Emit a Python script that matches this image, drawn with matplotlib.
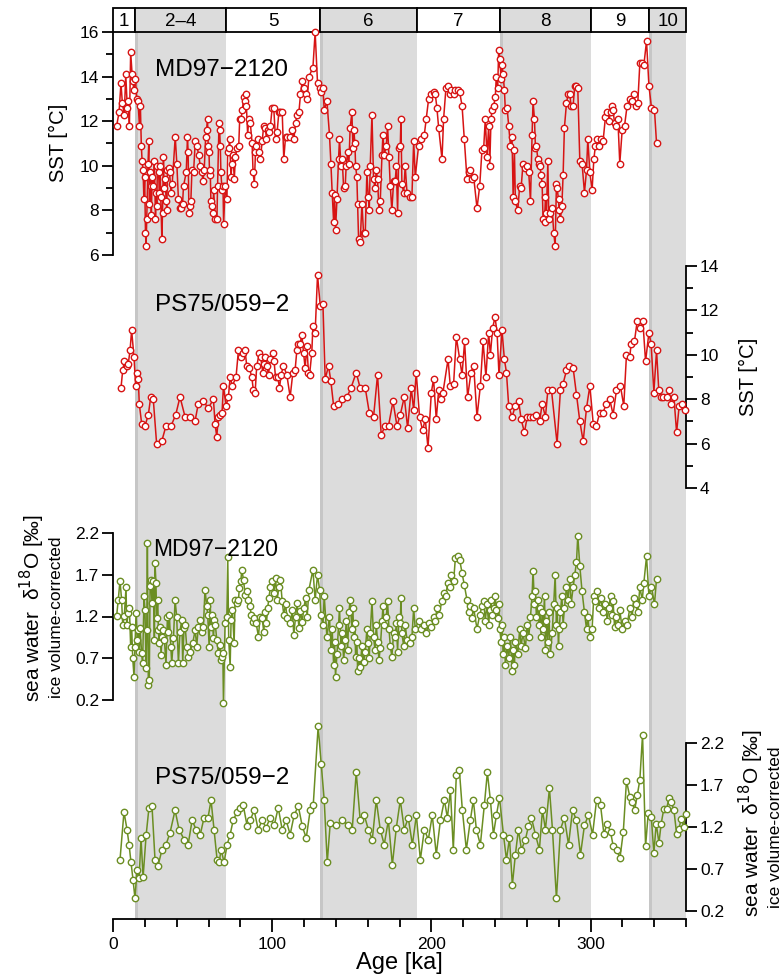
import matplotlib
matplotlib.use("Agg")
import matplotlib.pyplot as plt
from matplotlib.patches import Rectangle
import numpy as np

plt.rcParams['font.family'] = ['Liberation Sans', 'DejaVu Sans']

# ---- Marine isotope stages ----
mis_labels = ['1', '2\u20134', '5', '6', '7', '8', '9', '10']
mis_bounds = [0, 14, 71, 130, 191, 243, 300, 337, 360]
mis_glacial = [False, True, False, True, False, True, False, True]
terminations = [14, 130, 243, 337]

# ---- MD97-2120 SST [°C] ----
md_sst_age = [
    2.3, 3.8, 5.0, 5.9, 7.1, 8.0, 9.0, 9.7, 10.3, 11.1, 12.0, 12.6, 13.0, 14.1, 14.9, 15.7,
    16.6, 17.2, 17.8, 18.3, 18.9, 19.4, 19.9, 20.4, 20.8, 21.2, 22.0, 22.5, 22.9, 23.3, 23.7,
    24.1, 24.6, 25.4, 26.0, 26.7, 27.1, 27.5, 27.9, 28.6, 29.2, 29.6, 30.0, 30.7, 31.1, 31.7,
    32.1, 32.8, 33.4, 33.8, 34.2, 34.9, 35.5, 36.5, 37.2, 39.1, 40.1, 41.1, 42.2, 42.8, 43.7,
    44.3, 46.0, 46.8, 47.2, 47.7, 48.5, 48.9, 49.6, 50.6, 51.7, 52.7, 53.8, 54.8, 55.9, 56.5,
    57.3, 58.2, 58.8, 59.4, 59.8, 60.3, 60.7, 61.1, 61.5, 62.2, 62.8, 63.2, 64.3, 65.3, 65.7,
    66.6, 67.0, 67.4, 67.8, 68.5, 69.1, 69.5, 70.5, 71.6, 72.0, 72.7, 73.3, 74.1, 74.8, 75.4,
    76.2, 76.9, 77.9, 79.0, 79.6, 80.4, 81.3, 82.1, 82.7, 83.4, 83.8, 84.6, 85.3, 86.3, 87.4,
    88.0, 88.8, 89.5, 90.1, 90.9, 91.6, 92.6, 93.7, 94.7, 95.8, 96.4, 97.2, 97.9, 98.9, 100.0,
    101.0, 102.1, 103.1, 104.2, 105.2, 106.3, 107.3, 108.4, 109.4, 111.5, 112.6, 113.6, 114.7,
    115.7, 116.8, 117.8, 118.9, 119.9, 121.0, 122.0, 123.1, 125.6, 127.0, 128.5, 129.8, 130.6,
    131.9, 132.7, 134.4, 136.0, 136.9, 137.7, 138.6, 139.2, 139.8, 140.7, 141.7, 142.3, 143.2,
    144.0, 144.9, 145.9, 146.5, 147.4, 148.2, 149.0, 150.1, 150.7, 151.3, 152.0, 152.4, 153.2,
    153.7, 154.3, 155.3, 156.4, 157.4, 158.5, 159.5, 160.4, 161.0, 161.6, 162.7, 163.7, 164.6,
    165.4, 166.2, 167.1, 167.9, 169.0, 169.6, 170.4, 171.7, 172.5, 173.4, 174.2, 175.2, 176.3,
    177.3, 178.0, 178.8, 179.6, 180.5, 180.9, 181.5, 182.6, 183.6, 184.7, 186.3, 187.8, 188.9,
    189.9, 192.0, 193.5, 195.6, 196.8, 198.3, 199.8, 201.4, 202.5, 203.5, 204.6, 206.7, 207.7,
    209.2, 210.2, 211.5, 212.5, 214.0, 215.1, 216.5, 217.8, 219.3, 220.7, 222.4, 223.4, 224.5,
    225.5, 226.6, 228.7, 230.4, 231.8, 232.9, 233.9, 235.0, 236.0, 236.7, 237.5, 238.1, 239.2,
    240.2, 240.8, 241.7, 242.3, 243.0, 243.8, 244.4, 245.1, 245.9, 246.5, 247.6, 248.6, 249.7,
    250.7, 251.4, 252.2, 252.8, 254.3, 255.5, 256.4, 257.6, 259.1, 260.2, 261.2, 262.3, 263.3,
    263.9, 264.8, 265.4, 266.0, 266.9, 267.5, 268.1, 269.0, 269.6, 270.2, 271.1, 271.7, 272.3,
    273.2, 273.8, 274.8, 275.9, 276.9, 277.8, 278.6, 279.0, 279.9, 280.3, 281.1, 282.0, 282.8,
    283.6, 284.9, 285.9, 287.0, 287.8, 289.1, 290.1, 291.2, 292.0, 293.3, 294.7, 296.2, 297.5,
    298.3, 299.6, 301.0, 302.1, 303.1, 304.2, 305.2, 306.3, 307.9, 309.4, 310.5, 311.5, 312.6,
    313.6, 314.2, 315.1, 316.3, 317.2, 318.4, 319.9, 321.4, 323.0, 324.7, 326.2, 327.2, 328.3,
    329.7, 331.0, 332.5, 333.5, 335.2, 336.7, 338.3, 340.2, 341.5]
md_sst = [
    11.8, 12.4, 13.7, 12.8, 12.3, 14.1, 12.6, 12.9, 11.8, 15.1, 14.1, 13.8, 13.4, 13.9, 13.0, 12.9,
    11.8, 12.7, 10.9, 10.2, 9.8, 8.5, 9.5, 7.0, 6.4, 7.6, 10.1, 11.1, 8.3, 9.7, 9.1,
    7.8, 9.5, 9.1, 10.2, 7.6, 8.8, 8.2, 10.0, 9.7, 8.8, 10.0, 8.6, 6.7, 7.9, 10.4,
    9.0, 9.4, 8.4, 8.0, 9.8, 9.9, 9.7, 8.8, 9.2, 11.3, 10.1, 8.5, 8.1, 8.1, 8.3,
    9.1, 9.7, 11.3, 10.6, 7.9, 8.2, 8.4, 9.8, 9.7, 11.1, 10.9, 10.5, 10.0, 9.7, 9.3,
    9.8, 11.3, 11.6, 12.1, 10.9, 10.6, 9.6, 9.8, 8.4, 8.2, 7.9, 8.9, 7.6, 7.6, 9.1,
    11.9, 11.6, 10.9, 9.7, 8.9, 9.1, 7.4, 9.1, 8.5, 10.6, 10.8, 11.2, 9.5, 10.1, 10.5,
    9.4, 10.4, 10.8, 10.9, 12.1, 12.1, 12.5, 13.1, 12.9, 13.2, 12.7, 11.4, 12.1, 11.9, 11.0,
    9.7, 9.2, 10.6, 10.9, 11.2, 10.6, 10.3, 11.1, 11.8, 11.7, 11.2, 11.6, 11.5, 11.8, 12.6,
    12.6, 11.2, 11.5, 12.4, 12.4, 12.4, 10.3, 11.3, 11.3, 11.3, 11.6, 11.2, 11.9,
    12.3, 12.4, 13.2, 13.8, 13.5, 13.2, 13.0, 14.0, 14.4, 16.0, 13.7, 13.5, 13.3,
    13.5, 12.5, 12.9, 11.4, 10.1, 8.8, 7.5, 8.7, 7.1, 8.5, 10.3, 11.2, 10.0,
    10.3, 9.0, 9.1, 10.0, 10.6, 10.1, 11.7, 12.4, 10.8, 11.6, 11.0, 10.0, 9.5,
    8.3, 6.7, 6.6, 8.3, 7.0, 7.0, 9.7, 8.6, 8.0, 10.0, 12.3, 9.4, 9.0,
    9.8, 9.4, 8.0, 8.4, 10.5, 11.4, 10.5, 10.9, 11.8, 10.4, 9.1, 8.0, 9.3,
    9.3, 10.0, 7.9, 10.8, 10.9, 12.1, 9.2, 8.8, 10.0, 8.8, 8.6, 8.6, 11.1,
    9.5, 10.9, 11.2, 11.4, 12.1, 13.0, 13.2, 13.3, 13.2, 12.6, 11.7, 10.3, 12.1,
    13.5, 13.6, 13.2, 13.4, 13.2, 13.4, 13.4, 13.3, 12.7, 11.2, 9.4, 9.7, 9.8,
    9.4, 9.5, 8.1, 9.1, 10.7, 10.8, 12.1, 10.4, 11.8, 10.0, 12.1, 12.5, 12.7,
    13.1, 14.0, 13.5, 15.2, 14.8, 13.9, 14.5, 14.1, 13.4, 12.5, 12.6, 11.8, 10.9,
    11.3, 8.6, 10.7, 8.4, 8.0, 9.1, 9.0, 10.1, 9.9, 10.0, 9.7, 8.4, 11.4,
    12.9, 12.1, 10.8, 10.9, 10.3, 10.1, 10.0, 9.6, 9.2, 7.6, 7.5, 8.6, 7.9,
    10.2, 7.6, 7.9, 8.1, 7.0, 6.4, 9.2, 9.0, 8.5, 8.0, 7.6, 8.2, 9.6,
    11.7, 12.8, 13.2, 13.2, 12.7, 12.7, 13.6, 13.6, 13.5, 10.2, 10.1, 8.8, 9.8,
    11.2, 9.7, 8.9, 10.3, 10.9, 11.2, 10.9, 11.2, 11.1, 12.2, 12.4, 12.0, 12.4,
    12.7, 12.5, 11.9, 11.8, 12.1, 10.1, 11.6, 11.8, 12.7, 13.0, 12.9, 13.2, 12.7,
    12.8, 14.6, 14.6, 14.5, 15.6, 13.6, 12.6, 12.5, 11.0]

# ---- PS75/059-2 SST [°C] ----
ps_sst_age = [
    5.0, 6.1, 7.1, 8.6, 9.6, 10.7, 11.7, 13.2, 14.2, 14.9, 15.9, 16.5, 18.0, 20.1, 22.2, 23.7,
    25.3, 27.4, 30.6, 33.3, 36.5, 39.4, 42.1, 45.3, 48.4, 51.5, 53.6, 56.8, 59.9, 63.1, 64.1,
    65.2, 66.2, 67.3, 68.5, 69.4, 71.0, 72.5, 73.6, 75.0, 77.3, 78.8, 80.3, 81.5, 83.0, 84.0,
    85.7, 87.2, 88.2, 89.3, 90.3, 92.0, 92.8, 94.1, 94.9, 95.8, 96.6, 97.7, 98.7, 100.4, 101.2,
    102.1, 103.5, 104.6, 105.6, 107.1, 109.2, 111.3, 113.0, 114.4, 115.5, 116.5, 117.6, 118.6,
    119.7, 120.7, 121.8, 122.8, 123.5, 124.9, 125.6, 127.0, 128.5, 130.2, 131.9, 133.3, 135.4,
    136.9, 138.6, 141.1, 143.8, 147.0, 149.5, 152.8, 155.3, 158.5, 161.0, 163.7, 166.2, 168.5,
    171.0, 173.1, 175.9, 178.4, 180.5, 183.0, 185.1, 187.4, 188.9, 190.5, 192.6, 194.5, 196.2,
    197.9, 200.0, 201.4, 203.1, 204.6, 206.1, 207.3, 210.5, 211.9, 214.0, 215.7, 217.8, 219.3,
    220.9, 222.8, 224.9, 226.6, 228.7, 230.8, 232.5, 234.3, 236.0, 237.1, 238.5, 240.0, 241.3,
    242.5, 244.4, 245.9, 247.2, 248.6, 250.7, 252.8, 254.9, 256.4, 258.5, 260.2, 261.8, 263.9,
    266.0, 268.1, 269.6, 271.7, 273.2, 275.5, 279.0, 281.1, 282.8, 284.9, 286.8, 289.1, 291.2,
    293.3, 295.4, 297.5, 299.6, 301.7, 303.7, 305.8, 307.9, 310.0, 312.1, 314.2, 316.3, 318.8,
    320.9, 322.6, 324.7, 325.5, 327.6, 329.3, 331.0, 332.9, 334.6, 336.7, 338.1, 339.8, 341.5,
    342.9, 344.0, 345.7, 347.8, 349.2, 350.7, 352.4, 354.1, 355.7, 357.6, 359.1]
ps_sst = [
    8.5, 9.3, 9.7, 9.5, 9.6, 10.2, 11.1, 9.9, 8.6, 9.2, 8.9, 7.8, 6.9, 6.8, 7.3, 8.1,
    8.0, 6.0, 6.1, 6.8, 6.8, 7.3, 8.1, 7.2, 7.2, 7.0, 7.8, 7.9, 7.6, 8.0, 6.9,
    6.3, 7.2, 7.3, 7.4, 8.6, 7.7, 8.1, 9.0, 8.6, 9.0, 10.2, 9.9, 10.1, 10.2, 9.5,
    9.4, 9.0, 8.4, 8.3, 9.5, 10.1, 9.9, 9.2, 9.6, 9.9, 9.5, 9.1, 9.8, 10.1, 9.7,
    9.0, 9.0, 8.5, 9.1, 9.5, 9.1, 8.1, 9.2, 9.3, 10.2, 10.5, 10.5, 10.9,
    10.1, 9.4, 10.4, 9.2, 9.1, 10.1, 11.3, 11.0, 13.6, 12.2, 12.3, 8.9, 9.5,
    8.8, 7.7, 7.8, 8.0, 8.1, 8.5, 9.2, 8.5, 8.5, 7.4, 7.2, 9.1, 6.4,
    6.8, 6.8, 7.9, 6.8, 7.3, 8.1, 6.7, 8.5, 7.5, 9.2, 7.2, 6.6, 7.1,
    5.8, 8.3, 8.9, 7.1, 8.4, 8.0, 8.3, 9.8, 8.6, 8.7, 10.8, 9.8, 9.1,
    10.6, 8.1, 9.2, 9.5, 7.2, 8.6, 10.6, 9.0, 11.0, 10.0, 11.2, 11.7, 11.0,
    9.1, 11.1, 9.8, 9.2, 7.7, 7.2, 7.7, 7.9, 7.1, 6.5, 7.2, 7.2, 7.2,
    7.3, 7.0, 7.8, 7.2, 8.4, 8.4, 6.0, 8.4, 8.7, 9.3, 9.5, 9.4, 8.2,
    7.0, 6.1, 7.6, 8.6, 6.9, 6.8, 7.4, 7.4, 7.8, 8.0, 7.3, 8.4, 8.6,
    7.7, 10.0, 9.9, 10.5, 10.6, 11.5, 11.2, 11.5, 9.7, 11.0, 10.5, 8.3, 10.2,
    8.4, 8.1, 8.1, 8.1, 8.4, 7.8, 8.1, 6.5, 7.7, 7.8, 7.5]

# ---- MD97-2120 ice volume-corrected seawater d18O [permil] ----
md_d18o_age = [
    2.3, 3.3, 4.4, 5.4, 6.1, 7.1, 8.2, 8.6, 9.6, 10.3, 11.1, 11.7, 12.4, 13.2, 13.8, 14.5,
    15.3, 15.9, 16.5, 17.0, 18.0, 18.6, 19.5, 20.1, 20.7, 21.2, 21.6, 22.2, 22.8, 23.3, 23.9,
    24.5, 25.4, 26.0, 26.4, 27.0, 27.4, 28.1, 28.5, 29.1, 29.5, 30.2, 30.8, 31.6, 32.3, 33.3,
    34.2, 34.8, 35.4, 36.3, 36.9, 38.0, 39.0, 40.0, 41.1, 42.1, 43.2, 43.8, 44.6, 45.3, 46.3,
    47.4, 48.4, 50.1, 51.6, 52.6, 53.6, 54.7, 55.7, 56.8, 57.8, 58.9, 59.5, 60.4, 61.0, 61.6,
    62.2, 63.1, 63.7, 64.3, 65.2, 66.2, 67.3, 67.9, 68.3, 69.0, 69.4, 70.4, 71.5, 72.1, 72.7,
    73.6, 74.2, 75.0, 76.1, 76.7, 77.8, 78.8, 79.4, 80.3, 80.9, 82.0, 83.0, 84.0, 85.1, 86.1,
    86.8, 87.8, 88.9, 89.9, 91.4, 92.4,
    93.7, 94.7, 95.8, 96.4, 97.2, 97.9, 98.9, 100.0, 101.0, 102.1, 103.1, 104.2, 105.2, 106.3,
    107.3, 108.4, 109.4, 111.5, 112.6, 113.6, 114.7, 115.7, 116.8, 117.8, 118.9, 119.9, 121.0,
    122.0, 123.1, 125.6, 127.0, 128.5, 129.8, 130.6,
    131.9, 132.7, 134.4, 136.0, 136.9, 137.7, 138.6, 139.2, 139.8, 140.7, 141.7, 142.3, 143.2,
    144.0, 144.9, 145.9, 146.5, 147.4, 148.2, 149.0, 150.1, 150.7, 151.3, 152.0, 152.4, 153.2,
    153.7, 154.3, 155.3, 156.4, 157.4, 158.5, 159.5, 160.4, 161.0, 161.6, 162.7, 163.7, 164.6,
    165.4, 166.2, 167.1, 167.9, 169.0, 169.6, 170.4, 171.7, 172.5, 173.4, 174.2, 175.2, 176.3,
    177.3, 178.0, 178.8, 179.6, 180.5, 180.9, 181.5, 182.6, 183.6, 184.7, 186.3, 187.8, 188.9,
    189.9,
    192.0, 193.5, 195.6, 196.8, 198.3, 199.8, 201.4, 202.5, 203.5, 204.6, 206.7, 207.7, 209.2,
    210.2, 211.5, 212.5, 214.0, 215.1, 216.5, 217.8, 219.3, 220.7, 222.4, 223.4, 224.5, 225.5,
    226.6, 228.7, 230.4, 231.8, 232.9, 233.9, 235.0, 236.0, 236.7, 237.5, 238.1, 239.2, 240.2,
    240.8, 241.7, 242.3,
    243.0, 243.8, 244.4, 245.1, 245.9, 246.5, 247.6, 248.6, 249.7, 250.7, 251.4, 252.2, 252.8,
    254.3, 255.5, 256.4, 257.6, 259.1, 260.2, 261.2, 262.3, 263.3, 263.9, 264.8, 265.4, 266.0,
    266.9, 267.5, 268.1, 269.0, 269.6, 270.2, 271.1, 271.7, 272.3, 273.2, 273.8, 274.8, 275.9,
    276.9, 277.8, 278.6, 279.0, 279.9, 280.3, 281.1, 282.0, 282.8, 283.6, 284.9, 285.9, 287.0,
    287.8, 289.1, 290.1, 291.2, 292.0, 293.3, 294.7, 296.2, 297.5, 298.3, 299.6,
    301.0, 302.1, 303.1, 304.2, 305.2, 306.3, 307.9, 309.4, 310.5, 311.5, 312.6, 313.6, 314.2,
    315.1, 316.3, 317.2, 318.4, 319.9, 321.4, 323.0, 324.7, 326.2, 327.2, 328.3, 329.7, 331.0,
    332.5, 333.5, 335.2, 336.7, 338.3, 340.2, 341.5]
md_d18o = [
    1.21, 1.40, 1.63, 1.40, 1.10, 1.21, 1.55, 1.10, 1.24, 1.30, 0.84, 1.08, 0.70, 0.48, 0.84, 1.24,
    0.92, 1.04, 0.78, 1.06, 0.76, 0.64, 1.44, 1.28, 0.58, 1.04, 2.08, 0.38, 0.44, 1.56, 1.64,
    1.36, 1.62, 0.92, 1.84, 1.60, 1.18, 1.40, 1.04, 0.88, 1.08, 0.74, 0.96, 1.04, 0.92, 0.62,
    1.20, 1.02, 1.22, 0.84, 0.64, 0.94, 1.40, 1.20, 0.64, 1.02, 1.16, 0.64, 1.06, 1.10, 0.84,
    0.72, 0.78, 0.88, 1.04, 0.84, 1.08, 1.16, 1.02, 1.08, 1.52, 1.32, 1.22, 0.84, 1.40, 1.08,
    1.22, 0.94, 1.16, 1.10, 0.92, 0.76, 0.86, 0.68, 0.72, 0.76, 0.17, 1.12, 1.20, 1.91, 0.92,
    0.60, 1.16, 1.28, 0.88, 1.40, 1.36, 1.40, 1.54, 1.62, 1.76, 1.64, 1.46, 1.50, 1.40, 1.32,
    1.22, 1.14, 1.18, 1.12, 0.96, 1.20,
    1.18, 1.02, 1.25, 1.12, 1.30, 1.42, 1.55, 1.62, 1.48, 1.66, 1.40, 1.55, 1.64, 1.38,
    1.22, 1.35, 1.18, 1.12, 1.28, 0.98, 1.20, 1.36, 1.06, 1.26, 1.14, 1.30, 1.42,
    1.20, 1.52, 1.76, 1.40, 1.70, 1.52, 1.22,
    1.10, 1.45, 0.95, 1.20, 0.80, 1.05, 0.62, 0.90, 0.48, 0.75, 1.10, 1.30, 0.85,
    1.00, 0.68, 0.92, 1.15, 0.80, 1.25, 1.40, 1.05, 1.30, 0.95, 1.12, 0.72, 0.90,
    0.55, 0.70, 0.60, 0.85, 0.65, 0.78, 1.05, 0.88, 0.70, 1.00, 1.38, 0.95, 0.80,
    1.10, 0.90, 0.68, 0.82, 1.15, 1.32, 1.10, 1.20, 1.38, 1.05, 0.85, 0.72, 1.00,
    0.95, 1.12, 0.78, 1.20, 1.12, 1.42, 1.00, 0.85, 1.10, 0.92, 0.88, 0.95, 1.30,
    1.05,
    1.15, 1.05, 1.10, 1.00, 1.12, 1.08, 1.20, 1.15, 1.30, 1.22, 1.38, 1.48, 1.45,
    1.60, 1.55, 1.70, 1.62, 1.90, 1.93, 1.88, 1.72, 1.58, 1.40, 1.25, 1.32, 1.18,
    1.30, 1.05, 1.22, 1.32, 1.38, 1.15, 1.35, 1.10, 1.28, 1.40, 1.22, 1.30, 1.45,
    1.28, 1.18, 1.35,
    1.05, 0.90, 1.10, 0.75, 0.95, 0.62, 0.85, 0.70, 0.95, 0.55, 0.80, 0.62, 0.90,
    0.75, 1.05, 0.85, 1.00, 0.82, 1.10, 0.95, 1.20, 1.45, 1.75, 1.35, 1.50, 1.20,
    1.40, 1.10, 1.30, 0.95, 1.25, 1.05, 1.45, 0.80, 1.15, 0.90, 1.25, 0.75, 1.00,
    1.35, 1.70, 1.10, 1.30, 0.85, 1.05, 1.25, 1.45, 1.10, 1.30, 1.55, 1.40, 1.65,
    1.35, 1.55, 1.70, 1.85, 2.17, 1.80, 1.50, 1.25, 1.05, 1.20, 0.95,
    1.05, 1.45, 1.38, 1.50, 1.30, 1.42, 1.25, 1.35, 1.15, 1.30, 1.45, 1.22, 1.38,
    1.08, 1.20, 1.10, 1.28, 1.05, 1.15, 1.10, 1.30, 1.20, 1.42, 1.35, 1.25, 1.55,
    1.40, 1.60, 1.92, 1.45, 1.55, 1.35, 1.65]

# ---- PS75/059-2 ice volume-corrected seawater d18O [permil] ----
ps_d18o_age = [
    4.4, 6.9, 8.8, 10.1, 11.3, 12.6, 13.8, 15.1, 16.4, 17.6, 18.9, 20.8, 22.6, 24.5, 26.4, 28.3,
    30.8, 33.3, 35.8, 39.0, 41.5, 44.7, 47.2, 49.7, 52.2, 54.7, 57.2, 59.7, 61.6, 63.5, 65.4,
    66.7, 67.9, 69.8, 71.7, 73.6, 75.5, 78.0, 79.9, 81.8, 84.3, 86.2, 88.7, 91.2, 93.7, 96.2,
    98.7, 101.3, 103.8, 106.3, 108.8, 111.3, 113.8, 116.4, 118.9, 121.4, 123.9, 125.8, 128.9,
    130.8, 132.7, 134.6, 136.5, 140.3, 144.0, 147.8, 150.3, 152.8, 155.3, 157.9, 160.4, 162.9,
    165.4, 167.9, 170.4, 173.0, 175.5, 178.0, 180.5, 183.0, 185.5, 188.1, 190.6, 193.1, 195.6,
    198.1, 200.6, 203.1, 205.7, 208.2, 210.1, 212.0, 213.8, 215.7, 217.6, 219.5, 222.0, 224.5,
    226.4, 228.3, 230.8, 233.3, 235.2, 237.1, 239.0, 240.9, 242.8, 245.3, 247.2, 249.1, 250.9,
    252.8, 254.7, 256.6, 259.1, 261.0, 262.9, 265.4, 267.9, 269.8, 271.7, 274.2, 276.1, 278.6,
    281.1, 283.6, 286.2, 288.7, 291.2, 293.7, 296.2, 298.7, 301.3, 303.8, 306.3, 308.4, 310.5,
    312.6, 314.3, 316.4, 318.5, 320.6, 322.6, 324.7, 326.2, 327.7, 329.4, 331.0, 332.7, 334.6,
    336.3, 338.2, 339.8, 341.3, 343.0, 344.4, 346.1, 347.8, 349.3, 350.7, 352.4, 354.1, 355.6,
    357.0, 358.7, 359.7]
ps_d18o = [
    0.81, 1.38, 1.17, 0.99, 0.78, 0.57, 0.35, 0.69, 0.59, 1.07, 0.60, 1.10, 1.43, 1.45, 0.81, 0.74,
    0.93, 0.99, 1.13, 1.40, 1.17, 1.05, 0.99, 1.28, 1.17, 1.10, 1.31, 1.31, 1.52, 1.17, 0.81,
    0.78, 0.93, 0.78, 0.99, 1.11, 1.28, 1.38, 1.43, 1.46, 1.21, 1.28, 1.40, 1.17, 1.28, 1.19,
    1.31, 1.22, 1.43, 1.17, 1.28, 1.11, 1.34, 1.45, 1.21, 1.07, 1.40, 1.46, 2.40,
    1.95, 1.52, 0.78, 1.25, 1.22, 1.28, 1.22, 1.17, 1.85, 1.28, 1.34, 1.17, 1.05,
    1.52, 1.17, 0.99, 1.28, 0.75, 1.19, 1.52, 1.17, 1.31, 0.99, 1.34, 0.81, 1.17,
    1.05, 1.34, 0.87, 1.28, 1.52, 1.31, 1.64, 0.93, 1.82, 1.88, 1.40, 0.93, 1.28,
    1.52, 1.17, 0.99, 1.46, 1.85, 1.52, 1.11, 1.34, 1.55, 1.11, 0.81, 1.07, 0.51,
    0.87, 1.17, 0.93, 1.05, 1.21, 1.31, 1.11, 0.93, 1.40, 1.17, 1.66, 1.17, 0.35,
    1.17, 1.31, 0.99, 1.40, 1.28, 0.87, 1.22, 1.34, 1.11, 1.52, 1.46, 1.12, 1.24,
    1.14, 0.97, 0.93, 0.83, 1.14, 1.75, 1.56, 1.50, 1.40, 1.58, 1.76, 2.30, 0.97,
    1.37, 1.32, 0.89, 1.24, 1.01, 1.24, 1.42, 1.41, 1.55, 1.50, 1.40, 1.12, 1.18,
    1.30, 1.20, 1.36]

RED = '#d71414'
GREEN = '#6b8e23'

W_PX, H_PX = 783, 976
fig = plt.figure(figsize=(W_PX / 100, H_PX / 100), dpi=100)

X0, X1 = 113, 686


def fx(px):
    return px / W_PX


def fy(py):
    return 1 - py / H_PX


def rect(top, bottom):
    return [fx(X0), fy(bottom), fx(X1) - fx(X0), fy(top) - fy(bottom)]


# Background: glacial shading and the shared age axis
bg = fig.add_axes(rect(32, 919))
bg.set_xlim(0, 360)
bg.set_ylim(0, 1)
for a, b, g in zip(mis_bounds[:-1], mis_bounds[1:], mis_glacial):
    if g:
        bg.axvspan(a, b, color='#dcdcdc', lw=0, zorder=0)
for t in terminations:
    bg.axvspan(t, t + 1.9, color='#c6c6c6', lw=0, zorder=0)
for s in ['top', 'left', 'right']:
    bg.spines[s].set_visible(False)
bg.spines['bottom'].set_linewidth(1.3)
bg.set_yticks([])
bg.set_xticks([0, 100, 200, 300])
bg.set_xticks(np.arange(0, 361, 20), minor=True)
bg.tick_params(axis='x', which='major', length=9, width=1.3, labelsize=12.5, pad=4)
bg.tick_params(axis='x', which='minor', length=6, width=1.3)
bg.set_xlabel('Age [ka]', fontsize=17, labelpad=0)

# MIS strip
strip = fig.add_axes([fx(X0), fy(32), fx(X1) - fx(X0), fy(8) - fy(32)])
strip.set_xlim(0, 360)
strip.set_ylim(0, 1)
strip.axis('off')
for a, b, g, lab in zip(mis_bounds[:-1], mis_bounds[1:], mis_glacial, mis_labels):
    strip.add_patch(Rectangle((a, 0), b - a, 1, facecolor='#dcdcdc' if g else 'white',
                              edgecolor='black', lw=1.3, clip_on=False))
    strip.text((a + b) / 2, 0.45, lab, ha='center', va='center', fontsize=13.5)


def data_axes(top, bottom, ylim, side):
    ax = fig.add_axes(rect(top, bottom))
    ax.patch.set_visible(False)
    ax.set_xlim(0, 360)
    ax.set_ylim(*ylim)
    other = 'right' if side == 'left' else 'left'
    for s in ['top', 'bottom', other]:
        ax.spines[s].set_visible(False)
    ax.spines[side].set_linewidth(1.3)
    ax.set_xticks([])
    ax.yaxis.set_ticks_position(side)
    ax.yaxis.set_label_position(side)
    ax.tick_params(axis='y', which='major', length=8, width=1.3, labelsize=12.5, pad=2)
    ax.tick_params(axis='y', which='minor', length=5, width=1.3)
    return ax


def series(ax, x, y, color):
    ax.plot(x, y, '-o', color=color, lw=1.1, ms=4.6, mfc='white', mec=color, mew=1.0,
            clip_on=False, zorder=3)


ax1 = data_axes(32, 255, (6, 16), 'left')
ax1.set_yticks(np.arange(6, 17, 2))
ax1.set_yticks(np.arange(7, 16, 2), minor=True)
series(ax1, md_sst_age, md_sst, RED)
ax1.text(26.4, 14.3, 'MD97\u22122120', fontsize=17.5, ha='left', va='center')

ax2 = data_axes(266, 488, (4, 14), 'right')
ax2.set_yticks(np.arange(4, 15, 2))
ax2.set_yticks(np.arange(5, 14, 2), minor=True)
series(ax2, ps_sst_age, ps_sst, RED)
ax2.text(26.4, 12.25, 'PS75/059\u22122', fontsize=17.5, ha='left', va='center')

ax3 = data_axes(533, 700, (0.2, 2.2), 'left')
ax3.set_yticks([0.2, 0.7, 1.2, 1.7, 2.2])
ax3.set_yticklabels(['0.2', '0.7', '1.2', '1.7', '2.2'])
series(ax3, md_d18o_age, md_d18o, GREEN)
ax3.text(25, 2.0, 'MD97\u22122120', fontsize=16.5, ha='left', va='center')

ax4 = data_axes(743, 911, (0.2, 2.2), 'right')
ax4.set_yticks([0.2, 0.7, 1.2, 1.7, 2.2])
ax4.set_yticklabels(['0.2', '0.7', '1.2', '1.7', '2.2'])
series(ax4, ps_d18o_age, ps_d18o, GREEN)
ax4.text(26.4, 1.78, 'PS75/059\u22122', fontsize=17.5, ha='left', va='center')

# Axis titles
fig.text(fx(58), fy(143), 'SST [\u00b0C]', rotation=90, ha='center', va='center', fontsize=14.5)
fig.text(fx(748), fy(377), 'SST [\u00b0C]', rotation=90, ha='center', va='center', fontsize=14.5)
fig.text(fx(32), fy(608), 'sea water  \u03b4$^{18}$O [\u2030]', rotation=90, ha='center',
         va='center', fontsize=15)
fig.text(fx(57), fy(617), 'ice volume-corrected', rotation=90, ha='center', va='center',
         fontsize=12.5)
fig.text(fx(751), fy(823), 'sea water  \u03b4$^{18}$O [\u2030]', rotation=90, ha='center',
         va='center', fontsize=15)
fig.text(fx(775), fy(827), 'ice volume-corrected', rotation=90, ha='center', va='center',
         fontsize=12.5)

fig.savefig('out.png', dpi=100)
